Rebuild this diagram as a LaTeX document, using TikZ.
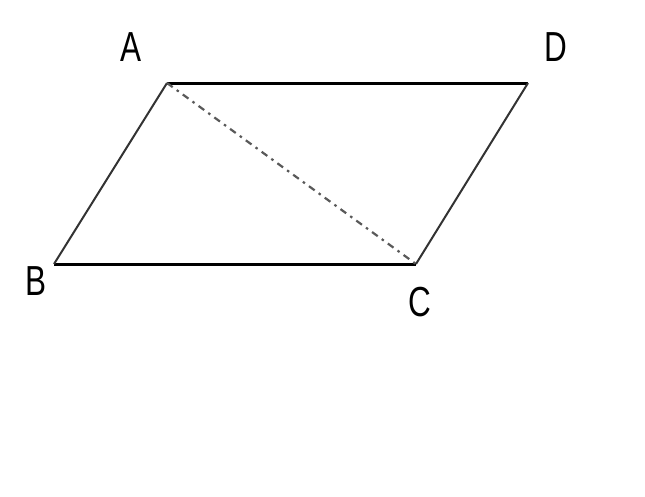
\documentclass[tikz,border=0pt]{standalone}
\usepackage{fontspec}
\setmainfont{Liberation Sans}
\begin{document}
\begin{tikzpicture}[x=1pt,y=-1pt,
  lbl/.style={inner sep=0pt,font=\fontsize{42}{42}\selectfont,xscale=0.75},
  thick line/.style={line width=3pt,black},
  side line/.style={line width=2pt,black!80},
  diag/.style={line width=2.2pt,black!65,dash pattern=on 7pt off 5pt on 2.5pt off 5pt}]
\useasboundingbox (0,0) rectangle (645,496);
\coordinate (A) at (167,83);
\coordinate (D) at (528,83);
\coordinate (B) at (54,264);
\coordinate (C) at (416,264);
\draw[thick line] (A) -- (D);
\draw[thick line] (B) -- (C);
\draw[side line] (A) -- (B);
\draw[side line] (D) -- (C);
\draw[diag] (A) -- (C);
\node[lbl] (lA) at (131,47) {A};
\node[lbl] (lD) at (556,47) {D};
\node[lbl] (lB) at (36,281) {B};
\node[lbl] (lC) at (420,302) {C};
\end{tikzpicture}
\end{document}
